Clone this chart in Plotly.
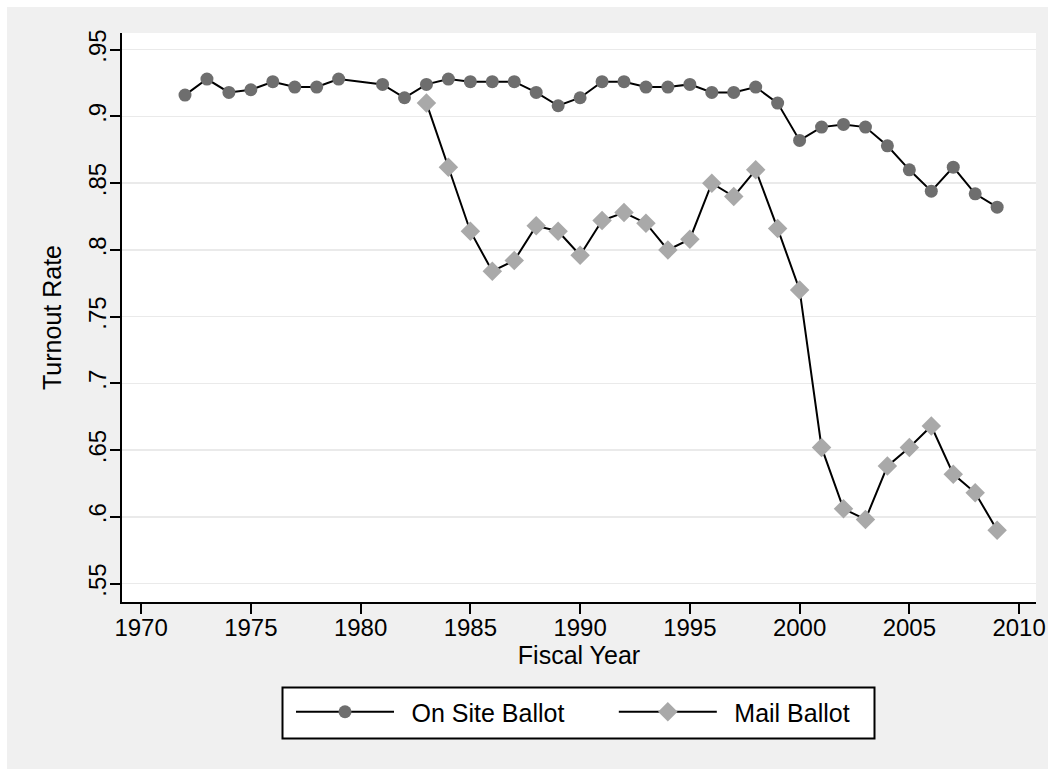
import plotly.graph_objects as go

# ---- data ----
onsite_years = [1972, 1973, 1974, 1975, 1976, 1977, 1978, 1979, 1981, 1982, 1983, 1984,
                1985, 1986, 1987, 1988, 1989, 1990, 1991, 1992, 1993, 1994, 1995, 1996,
                1997, 1998, 1999, 2000, 2001, 2002, 2003, 2004, 2005, 2006, 2007, 2008, 2009]
onsite_rate = [0.916, 0.928, 0.918, 0.920, 0.926, 0.922, 0.922, 0.928, 0.924, 0.914, 0.924, 0.928,
               0.926, 0.926, 0.926, 0.918, 0.908, 0.914, 0.926, 0.926, 0.922, 0.922, 0.924, 0.918,
               0.918, 0.922, 0.910, 0.882, 0.892, 0.894, 0.892, 0.878, 0.860, 0.844, 0.862, 0.842, 0.832]

mail_years = [1983, 1984, 1985, 1986, 1987, 1988, 1989, 1990, 1991, 1992, 1993, 1994, 1995,
              1996, 1997, 1998, 1999, 2000, 2001, 2002, 2003, 2004, 2005, 2006, 2007, 2008, 2009]
mail_rate = [0.910, 0.862, 0.814, 0.784, 0.792, 0.818, 0.814, 0.796, 0.822, 0.828, 0.820, 0.800, 0.808,
             0.850, 0.840, 0.860, 0.816, 0.770, 0.652, 0.606, 0.598, 0.638, 0.652, 0.668, 0.632, 0.618, 0.590]

x_ticks = [1970, 1975, 1980, 1985, 1990, 1995, 2000, 2005, 2010]
y_ticks = [0.55, 0.60, 0.65, 0.70, 0.75, 0.80, 0.85, 0.90, 0.95]
y_tick_labels = [".55", ".6", ".65", ".7", ".75", ".8", ".85", ".9", ".95"]

series_names = ["On Site Ballot", "Mail Ballot"]

FONT = "Liberation Sans, Arial, sans-serif"
BG_GRAY = "#f0f0f0"

# figure geometry (page body margin removed, figure fills the window)
W, H = 1048, 769
ML, MR, MT, MB = 122, 12, 33, 167
PW, PH = W - ML - MR, H - MT - MB


def px_x(x):
    return (x - ML) / PW


def px_y(y):
    return (H - MB - y) / PH


fig = go.Figure()
fig.add_trace(go.Scatter(
    x=onsite_years, y=onsite_rate, mode="lines+markers",
    name="\u2002" + series_names[0] + "\u2002\u2002\u2002\u00a0",
    line=dict(color="black", width=2),
    marker=dict(symbol="circle", size=13, color="#6e6e6e"),
))
fig.add_trace(go.Scatter(
    x=mail_years, y=mail_rate, mode="lines+markers",
    name="\u2002" + series_names[1],
    line=dict(color="black", width=2),
    marker=dict(symbol="diamond", size=15, color="#a9a9a9"),
))

# thin white frame on the top and left of the grey page
fig.add_shape(type="rect", xref="paper", yref="paper",
              x0=px_x(-10), x1=px_x(7), y0=px_y(H + 10), y1=px_y(-10),
              fillcolor="white", line=dict(width=0), layer="below")
fig.add_shape(type="rect", xref="paper", yref="paper",
              x0=px_x(-10), x1=px_x(W + 10), y0=px_y(7), y1=px_y(-10),
              fillcolor="white", line=dict(width=0), layer="below")

# legend frame
fig.add_shape(type="rect", xref="paper", yref="paper",
              x0=px_x(282.5), x1=px_x(874.5), y0=px_y(738.5), y1=px_y(687.5),
              fillcolor="white", line=dict(color="black", width=2), layer="above")

fig.update_layout(
    width=W, height=H,
    margin=dict(l=ML, r=MR, t=MT, b=MB, autoexpand=False),
    paper_bgcolor=BG_GRAY,
    plot_bgcolor="white",
    font=dict(family=FONT, color="black", size=25),
    showlegend=True,
    hovermode=False,
    legend=dict(
        orientation="h", x=px_x(291), xanchor="left", y=px_y(712), yanchor="middle",
        bgcolor="rgba(0,0,0,0)", borderwidth=0,
        font=dict(family=FONT, size=25, color="black"),
        itemwidth=98, itemclick=False, itemdoubleclick=False,
        tracegroupgap=0,
    ),
    xaxis=dict(
        range=[1969.13, 2010.77],
        tickvals=x_ticks, ticktext=[str(v) for v in x_ticks],
        ticks="outside", ticklen=10, tickwidth=2, tickcolor="black",
        ticklabelstandoff=-7,
        showline=True, linecolor="black", linewidth=2,
        showgrid=False, zeroline=False,
        tickfont=dict(family=FONT, size=24, color="black"),
        title=dict(text="Fiscal Year", font=dict(family=FONT, size=25, color="black"), standoff=1),
    ),
    yaxis=dict(
        range=[0.5362, 0.9625],
        tickvals=y_ticks, ticktext=y_tick_labels, tickangle=-90,
        ticks="outside", ticklen=10, tickwidth=2, tickcolor="black",
        ticklabelstandoff=-6,
        showline=True, linecolor="black", linewidth=2,
        showgrid=True, gridcolor="#eaeaea", gridwidth=1.5,
        zeroline=False,
        tickfont=dict(family=FONT, size=24, color="black"),
        title=dict(text="Turnout Rate", font=dict(family=FONT, size=25, color="black"), standoff=16),
    ),
)

fig.write_html(
    "out.html",
    config={"displayModeBar": False, "staticPlot": True},
    post_script="document.body.style.margin='0';document.documentElement.style.overflow='hidden';",
)
